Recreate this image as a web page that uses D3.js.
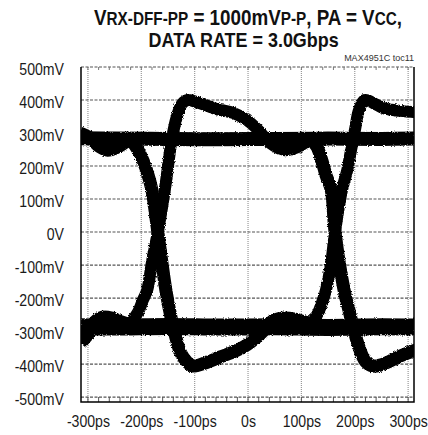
<!DOCTYPE html>
<html>
<head>
<meta charset="utf-8">
<script src="https://cdn.jsdelivr.net/npm/d3@7"></script>
<style>
	body { margin: 0; background: #fff; }
	text { font-family: 'Liberation Sans', Arial, sans-serif; }
</style>
</head>
<body>
<svg></svg>
<script>
// axis ticks
const xTicks = [-300, -200, -100, 0, 100, 200, 300];
const xTickLabels = ['-300ps', '-200ps', '-100ps', '0s', '100ps', '200ps', '300ps'];
const yTicks = [500, 400, 300, 200, 100, 0, -100, -200, -300, -400, -500];
const yTickLabels = ['500mV', '400mV', '300mV', '200mV', '100mV', '0V', '-100mV', '-200mV', '-300mV', '-400mV', '-500mV'];

// eye traces, [time ps, level mV]
const highLevel = [[-313, 284], [-250, 283], [-150, 282], [-50, 281], [50, 282], [150, 283], [250, 282], [312, 283]];
const lowLevel = [[-313, -287], [-250, -288], [-150, -286], [-50, -288], [50, -287], [150, -289], [250, -287], [312, -288]];

const highTail = [[-315, 300], [-296, 285], [-278, 258], [-263, 248], [-244, 258], [-225, 276], [-206, 282]];
const lowTail = [[-315, -335], [-300, -306], [-287, -276], [-272, -261], [-255, -264], [-236, -276], [-212, -286]];

const riseEdge1 = [[-244, -286], [-221, -273], [-206, -242], [-197, -206], [-189, -176], [-180, -91], [-169, 0],
	[-156, 127], [-143, 279], [-133, 352], [-124, 388], [-113, 400], [-90, 390], [-58, 372], [-28, 361], [-2, 339],
	[19, 309], [41, 270], [69, 248], [94, 258], [116, 279], [144, 282]];
const fallEdge1 = [[-236, 282], [-218, 273], [-204, 242], [-195, 209], [-189, 182], [-180, 127], [-169, 0],
	[-154, -176], [-144, -261], [-135, -321], [-126, -367], [-114, -394], [-103, -406], [-81, -397], [-53, -379],
	[-24, -361], [-2, -342], [15, -321], [30, -297], [45, -270], [64, -261], [88, -264], [107, -273], [131, -285], [154, -288]];

const riseEdge2 = [[98, -288], [116, -276], [129, -252], [139, -212], [146, -176], [156, -91], [163, 0],
	[176, 127], [186, 188], [193, 248], [201, 315], [208, 370], [219, 400], [238, 388], [253, 376], [285, 367], [315, 363]];
const fallEdge2 = [[98, 282], [116, 279], [128, 261], [137, 224], [146, 173], [156, 127], [163, 0],
	[180, -176], [189, -236], [201, -312], [212, -367], [221, -394], [233, -406], [248, -403], [266, -391],
	[285, -376], [315, -357]];

const svg = d3.select('svg')
	.attr('width', 428)
	.attr('height', 435);

const plot = { left: 81, right: 414, top: 67, bottom: 402 };
const narrow = 0.83; // condensed look for the labels

const xScale = d3.scaleLinear()
	.domain([-313, 311])
	.range([plot.left, plot.right]);

const yScale = d3.scaleLinear()
	.domain([-515, 500])
	.range([plot.bottom, plot.top]);

svg.append('rect')
	.attr('width', 428)
	.attr('height', 435)
	.attr('fill', '#fff');

const defs = svg.append('defs');
defs.append('clipPath')
	.attr('id', 'plot-clip')
	.append('rect')
	.attr('x', plot.left)
	.attr('y', plot.top)
	.attr('width', plot.right - plot.left)
	.attr('height', plot.bottom - plot.top);

// rough edges like the persistence trace
const rough = defs.append('filter')
	.attr('id', 'rough')
	.attr('x', '-5%').attr('y', '-5%')
	.attr('width', '110%').attr('height', '110%');
rough.append('feTurbulence')
	.attr('type', 'fractalNoise')
	.attr('baseFrequency', 0.9)
	.attr('numOctaves', 2)
	.attr('seed', 3)
	.attr('result', 'noise');
rough.append('feDisplacementMap')
	.attr('in', 'SourceGraphic')
	.attr('in2', 'noise')
	.attr('scale', 3)
	.attr('xChannelSelector', 'R')
	.attr('yChannelSelector', 'G');

// grid
const grid = svg.append('g');

grid.selectAll('.vgrid')
	.data(xTicks)
	.join('line')
	.attr('class', 'vgrid')
	.attr('x1', d => xScale(d))
	.attr('x2', d => xScale(d))
	.attr('y1', plot.top)
	.attr('y2', plot.bottom)
	.attr('stroke', '#999')
	.attr('stroke-width', 1.2)
	.attr('stroke-dasharray', '1,1');

grid.selectAll('.hgrid')
	.data(yTicks)
	.join('line')
	.attr('class', 'hgrid')
	.attr('x1', plot.left)
	.attr('x2', plot.right)
	.attr('y1', d => yScale(d))
	.attr('y2', d => yScale(d))
	.attr('stroke', '#555')
	.attr('stroke-width', 1.2)
	.attr('stroke-dasharray', '3,1.5');

// minor ticks along top and bottom
const minorX = d3.range(-300, 311, 20);
grid.selectAll('.mtick-b')
	.data(minorX)
	.join('line')
	.attr('x1', d => xScale(d))
	.attr('x2', d => xScale(d))
	.attr('y1', plot.bottom)
	.attr('y2', plot.bottom - 5)
	.attr('stroke', '#555');
grid.selectAll('.mtick-t')
	.data(minorX)
	.join('line')
	.attr('x1', d => xScale(d))
	.attr('x2', d => xScale(d))
	.attr('y1', plot.top)
	.attr('y2', plot.top + 3)
	.attr('stroke', '#777');

// traces
const line = d3.line()
	.x(d => xScale(d[0]))
	.y(d => yScale(d[1]))
	.curve(d3.curveCatmullRom);

const traces = [
	{ data: highLevel, width: 14 },
	{ data: lowLevel, width: 17 },
	{ data: highTail, width: 13 },
	{ data: lowTail, width: 15 },
	{ data: riseEdge1, width: 12 },
	{ data: fallEdge1, width: 13 },
	{ data: riseEdge2, width: 12 },
	{ data: fallEdge2, width: 13 }
];

svg.append('g')
	.attr('clip-path', 'url(#plot-clip)')
	.append('g')
	.attr('filter', 'url(#rough)')
	.selectAll('path')
	.data(traces)
	.join('path')
	.attr('d', d => line(d.data))
	.attr('fill', 'none')
	.attr('stroke', '#000')
	.attr('stroke-width', d => d.width)
	.attr('stroke-linejoin', 'round')
	.attr('stroke-linecap', 'butt');

// frame: left, bottom, right
svg.append('path')
	.attr('d', `M${plot.left},${plot.top}V${plot.bottom}H${plot.right}V${plot.top}`)
	.attr('fill', 'none')
	.attr('stroke', '#000')
	.attr('stroke-width', 1.5);

// axes
const xAxis = d3.axisBottom(xScale)
	.tickValues(xTicks)
	.tickFormat((d, i) => xTickLabels[i])
	.tickSize(0)
	.tickPadding(13);

const xAxisG = svg.append('g')
	.attr('transform', `translate(0, ${plot.bottom})`)
	.call(xAxis);
xAxisG.select('.domain').remove();
xAxisG.selectAll('text')
	.attr('font-family', null)
	.attr('font-size', 17)
	.attr('fill', '#1a1a1a')
	.attr('transform', `scale(${narrow},1)`);

const yAxis = d3.axisLeft(yScale)
	.tickValues(yTicks)
	.tickFormat((d, i) => yTickLabels[i])
	.tickSize(0);

const yAxisG = svg.append('g')
	.attr('transform', `translate(${plot.left}, 0)`)
	.call(yAxis);
yAxisG.select('.domain').remove();
yAxisG.selectAll('text')
	.attr('font-family', null)
	.attr('font-size', 17)
	.attr('fill', '#1a1a1a')
	.attr('x', -17 / narrow)
	.attr('dy', '0.45em')
	.attr('transform', `scale(${narrow},1)`);

// title
const title = svg.append('text')
	.attr('transform', `translate(248, 0) scale(0.875, 1)`)
	.attr('text-anchor', 'middle')
	.attr('font-weight', 'bold')
	.attr('fill', '#111');

const line1 = title.append('tspan')
	.attr('x', 0)
	.attr('y', 25)
	.attr('font-size', 21.5);
line1.append('tspan').text('V');
line1.append('tspan').attr('font-size', 17.5).text('RX-DFF-PP');
line1.append('tspan').text(' = 1000mV');
line1.append('tspan').attr('font-size', 17.5).text('P-P');
line1.append('tspan').text(', PA = V');
line1.append('tspan').attr('font-size', 17.5).text('CC');
line1.append('tspan').text(',');

title.append('tspan')
	.attr('x', -5)
	.attr('y', 47)
	.attr('font-size', 20.5)
	.text('DATA RATE = 3.0Gbps');

svg.append('text')
	.attr('x', 414)
	.attr('y', 61)
	.attr('text-anchor', 'end')
	.attr('font-size', 9)
	.attr('fill', '#333')
	.text('MAX4951C toc11');
</script>
</body>
</html>
